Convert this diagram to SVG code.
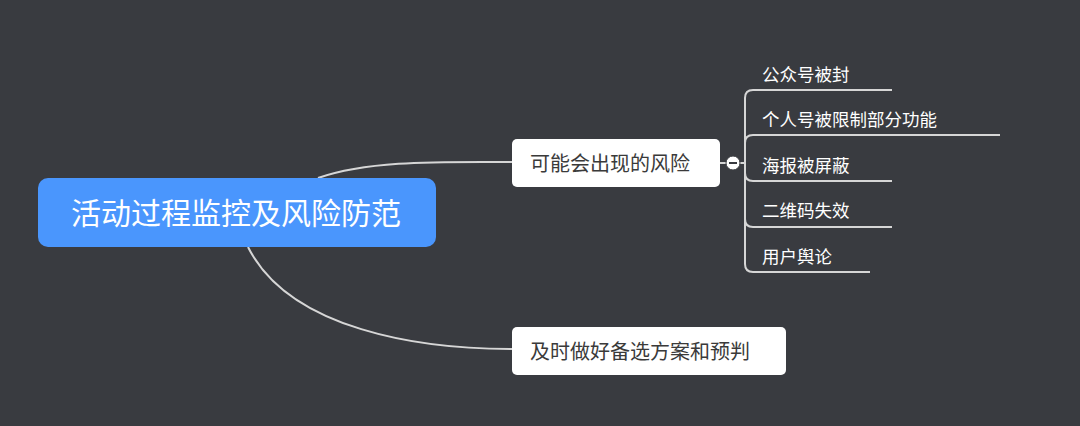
<svg xmlns="http://www.w3.org/2000/svg" width="1080" height="426" viewBox="0 0 1080 426">
<style>
.line{fill:none;stroke:#d6d6d6;stroke-width:2}
.t{font-family:"Noto Sans CJK SC","Noto Sans",sans-serif}
.sub{fill:#ffffff;font-size:17.5px}
.box{fill:#ffffff}
.dark{fill:#3a3a3a;font-size:20px}
</style>
<rect width="1080" height="426" fill="#393b40"/>
<g id="connectors">
<path class="line" d="M318,178 C370,160 440,162 512,162"/>
<path class="line" d="M248,247 C290,330 420,349 512,349"/>
<path class="line" d="M720,163 H745"/>
<path class="line" d="M745,98 V264"/>
<path class="line" d="M745,98 Q745,90 753,90 H892"/>
<path class="line" d="M745,143 Q745,135 753,135 H1000"/>
<path class="line" d="M745,173 Q745,181 753,181 H892"/>
<path class="line" d="M745,219 Q745,227 753,227 H892"/>
<path class="line" d="M745,264 Q745,272 753,272 H870"/>
</g>
<g id="root">
<rect x="38" y="178" width="398" height="69" rx="10" fill="#4a96fd"/>
<text class="t" x="236" y="224" font-size="30" fill="#ffffff" text-anchor="middle">活动过程监控及风险防范</text>
</g>
<g id="risk">
<rect class="box" x="512" y="139" width="208" height="48" rx="5"/>
<text class="t dark" x="530" y="171">可能会出现的风险</text>
<circle cx="733" cy="163" r="7" fill="#ffffff" stroke="#393b40" stroke-width="1"/>
<path d="M729,163 H737" stroke="#393b40" stroke-width="2"/>
</g>
<g id="plan">
<rect class="box" x="512" y="327" width="274" height="48" rx="5"/>
<text class="t dark" x="530" y="359">及时做好备选方案和预判</text>
</g>
<g id="item1"><text class="t sub" x="762" y="81">公众号被封</text></g>
<g id="item2"><text class="t sub" x="762" y="126">个人号被限制部分功能</text></g>
<g id="item3"><text class="t sub" x="762" y="172">海报被屏蔽</text></g>
<g id="item4"><text class="t sub" x="762" y="217">二维码失效</text></g>
<g id="item5"><text class="t sub" x="762" y="263">用户舆论</text></g>
</svg>
